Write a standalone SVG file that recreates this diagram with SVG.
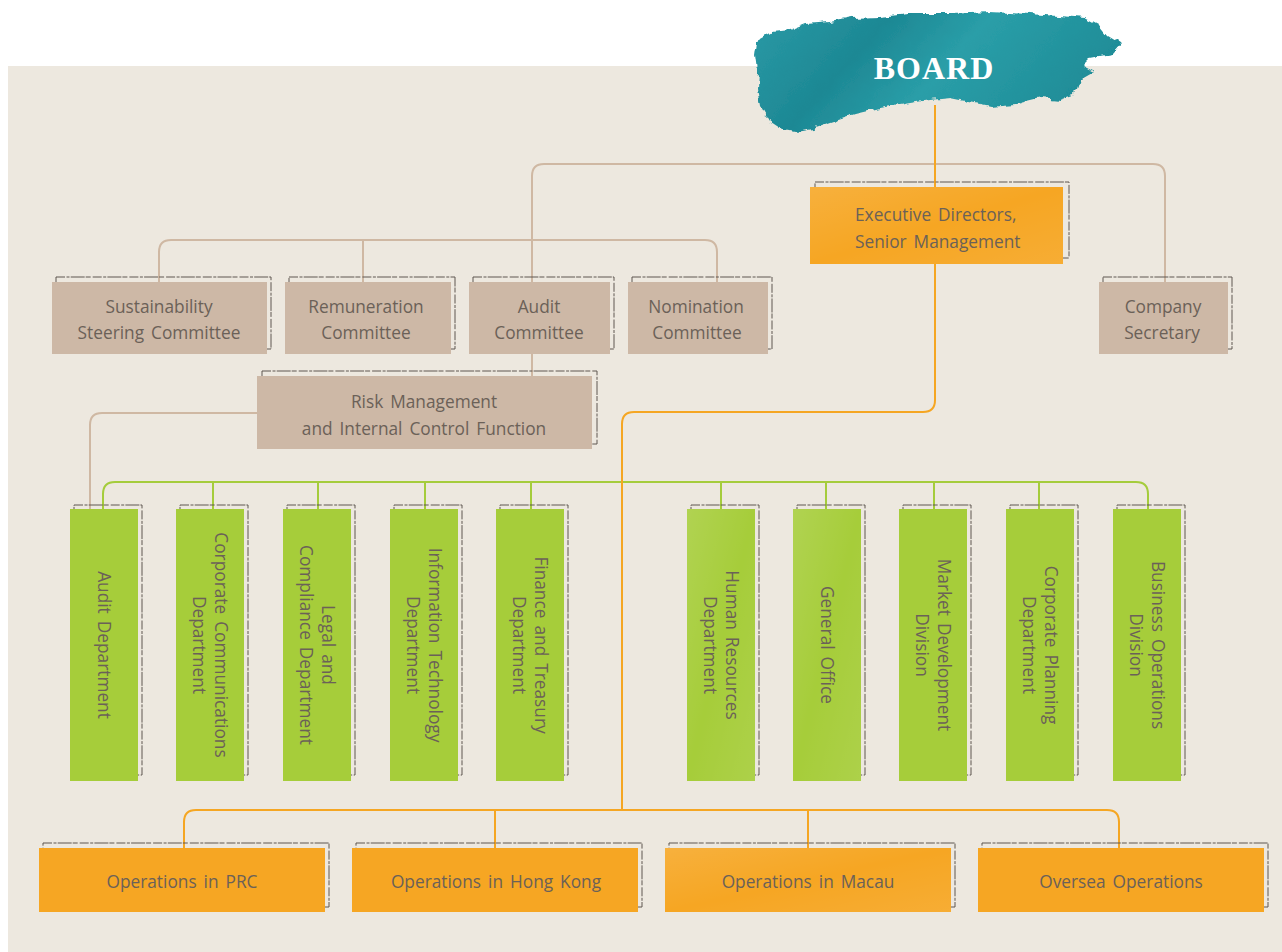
<svg xmlns="http://www.w3.org/2000/svg" width="1282" height="952" viewBox="0 0 1282 952">
<defs>
<style>
.t{font-family:"Open Sans","Noto Sans","DejaVu Sans",sans-serif;font-size:17.3px;word-spacing:2.5px;fill:#6b6158;text-anchor:middle;dominant-baseline:central}
.dash{fill:none;stroke:#5f5751;stroke-width:1;stroke-dasharray:9 1.5 3 1.2 14 1 5 2}
.tan{fill:#cdb8a6}
.grn{fill:#a6cd3a}
.org{fill:#f6a623}
.ctan{fill:none;stroke:#cfb8a3;stroke-width:2}
.corg{fill:none;stroke:#f5a623;stroke-width:2}
.cgrn{fill:none;stroke:#a5cc3c;stroke-width:2}
</style>
<filter id="rough" x="-5%" y="-20%" width="110%" height="140%">
<feTurbulence type="fractalNoise" baseFrequency="0.08" numOctaves="3" seed="3"/>
<feDisplacementMap in="SourceGraphic" scale="9" xChannelSelector="R" yChannelSelector="G"/>
</filter>
<linearGradient id="teal" x1="0" y1="0" x2="1" y2="0.3">
<stop offset="0" stop-color="#2a9aa6"/>
<stop offset="0.35" stop-color="#1d8894"/>
<stop offset="0.6" stop-color="#2a9ea8"/>
<stop offset="1" stop-color="#1f8d98"/>
</linearGradient>
<linearGradient id="sheen" x1="0" y1="0" x2="1" y2="1">
<stop offset="0" stop-color="#ffffff" stop-opacity="0.12"/>
<stop offset="0.5" stop-color="#ffffff" stop-opacity="0"/>
<stop offset="1" stop-color="#ffffff" stop-opacity="0.08"/>
</linearGradient>
</defs>
<rect x="0" y="0" width="1282" height="952" fill="#ffffff"/>
<rect x="8" y="66" width="1274" height="886" fill="#ede8df"/>

<g id="connectors">
<path class="ctan" d="M532,282 V176 Q532,164 544,164 H1153 Q1165,164 1165,176 V282"/>
<path class="ctan" d="M159,282 V252 Q159,240 171,240 H705 Q717,240 717,252 V282"/>
<path class="ctan" d="M363,240 V282"/>
<path class="ctan" d="M532,354 V376"/>
<path class="ctan" d="M257,413 H102 Q90,413 90,425 V509"/>
<path class="cgrn" d="M103,509 V494 Q103,482 115,482 H1136 Q1148,482 1148,494 V509"/>
<path class="cgrn" d="M213,482 V509 M318,482 V509 M425,482 V509 M531,482 V509 M721,482 V509 M826,482 V509 M934,482 V509 M1039,482 V509"/>
<path class="corg" d="M935,105 V187"/>
<path class="corg" d="M935,264 V400 Q935,412 923,412 H634 Q622,412 622,424 V810"/>
<path class="corg" d="M184,848 V822 Q184,810 196,810 H1107 Q1119,810 1119,822 V848"/>
<path class="corg" d="M495,810 V848 M808,810 V848"/>
</g>

<g id="board">
<path filter="url(#rough)" fill="url(#teal)" d="M758,40 L772,32 L790,30 L805,24 L830,22 L850,18 L880,17 L910,14 L950,14 L990,12 L1030,14 L1060,16 L1085,18 L1100,26 L1108,36 L1121,44 L1112,54 L1090,58 L1082,66 L1094,72 L1080,80 L1075,95 L1060,100 L1040,98 L1015,104 L990,106 L970,102 L950,98 L930,100 L905,104 L880,108 L855,114 L830,122 L812,128 L795,131 L780,128 L768,120 L760,106 L757,88 L758,70 L756,55 Z"/>
<text x="934" y="79" font-family="'Liberation Serif','DejaVu Serif',serif" font-weight="bold" font-size="32" letter-spacing="1" fill="#ffffff" text-anchor="middle">BOARD</text>
</g>

<g id="exec">
<rect class="dash" x="815" y="182" width="254" height="76"/>
<rect class="org" x="810" y="187" width="253" height="77"/>
<rect fill="url(#sheen)" x="810" y="187" width="253" height="77"/>
<text class="t" x="855" y="214" style="text-anchor:start">Executive Directors,</text>
<text class="t" x="855" y="241" style="text-anchor:start">Senior Management</text>
</g>

<g id="sustainability">
<rect class="dash" x="56" y="277" width="215" height="72"/>
<rect class="tan" x="52" y="282" width="215" height="72"/>
<text class="t" x="159" y="306">Sustainability</text>
<text class="t" x="159" y="332">Steering Committee</text>
</g>
<g id="remuneration">
<rect class="dash" x="289" y="277" width="166" height="72"/>
<rect class="tan" x="285" y="282" width="166" height="72"/>
<text class="t" x="366" y="306">Remuneration</text>
<text class="t" x="366" y="332">Committee</text>
</g>
<g id="audit-committee">
<rect class="dash" x="473" y="277" width="141" height="72"/>
<rect class="tan" x="469" y="282" width="141" height="72"/>
<text class="t" x="539" y="306">Audit</text>
<text class="t" x="539" y="332">Committee</text>
</g>
<g id="nomination">
<rect class="dash" x="632" y="277" width="140" height="72"/>
<rect class="tan" x="628" y="282" width="140" height="72"/>
<text class="t" x="696" y="306">Nomination</text>
<text class="t" x="697" y="332">Committee</text>
</g>
<g id="company-secretary">
<rect class="dash" x="1103" y="277" width="129" height="72"/>
<rect class="tan" x="1099" y="282" width="129" height="72"/>
<text class="t" x="1163" y="306">Company</text>
<text class="t" x="1162" y="332">Secretary</text>
</g>
<g id="risk">
<rect class="dash" x="262" y="371" width="335" height="73"/>
<rect class="tan" x="257" y="376" width="335" height="73"/>
<text class="t" x="424" y="401">Risk Management</text>
<text class="t" x="424" y="428">and Internal Control Function</text>
</g>

<g id="audit-dept">
<rect class="dash" x="74" y="505" width="68" height="270"/>
<rect class="grn" x="70" y="509" width="68" height="272"/>
<g transform="translate(104,645) rotate(90)"><text class="t" x="0" y="0">Audit Department</text></g>
</g>
<g id="corp-comm">
<rect class="dash" x="180" y="505" width="68" height="270"/>
<rect class="grn" x="176" y="509" width="68" height="272"/>
<g transform="translate(210,645) rotate(90)"><text class="t" x="0" y="-11">Corporate Communications</text><text class="t" x="0" y="11">Department</text></g>
</g>
<g id="legal">
<rect class="dash" x="287" y="505" width="68" height="270"/>
<rect class="grn" x="283" y="509" width="68" height="272"/>
<g transform="translate(317,645) rotate(90)"><text class="t" x="0" y="-11">Legal and</text><text class="t" x="0" y="11">Compliance Department</text></g>
</g>
<g id="it">
<rect class="dash" x="394" y="505" width="68" height="270"/>
<rect class="grn" x="390" y="509" width="68" height="272"/>
<g transform="translate(424,645) rotate(90)"><text class="t" x="0" y="-11">Information Technology</text><text class="t" x="0" y="11">Department</text></g>
</g>
<g id="finance">
<rect class="dash" x="500" y="505" width="68" height="270"/>
<rect class="grn" x="496" y="509" width="68" height="272"/>
<g transform="translate(530,645) rotate(90)"><text class="t" x="0" y="-11">Finance and Treasury</text><text class="t" x="0" y="11">Department</text></g>
</g>
<g id="hr">
<rect class="dash" x="691" y="505" width="68" height="270"/>
<rect class="grn" x="687" y="509" width="68" height="272"/>
<rect fill="url(#sheen)" x="687" y="509" width="68" height="272"/>
<g transform="translate(721,645) rotate(90)"><text class="t" x="0" y="-11">Human Resources</text><text class="t" x="0" y="11">Department</text></g>
</g>
<g id="general-office">
<rect class="dash" x="797" y="505" width="68" height="270"/>
<rect class="grn" x="793" y="509" width="68" height="272"/>
<rect fill="url(#sheen)" x="793" y="509" width="68" height="272"/>
<g transform="translate(827,645) rotate(90)"><text class="t" x="0" y="0">General Office</text></g>
</g>
<g id="market-dev">
<rect class="dash" x="903" y="505" width="68" height="270"/>
<rect class="grn" x="899" y="509" width="68" height="272"/>
<g transform="translate(933,645) rotate(90)"><text class="t" x="0" y="-11">Market Development</text><text class="t" x="0" y="11">Division</text></g>
</g>
<g id="corp-planning">
<rect class="dash" x="1010" y="505" width="68" height="270"/>
<rect class="grn" x="1006" y="509" width="68" height="272"/>
<g transform="translate(1040,645) rotate(90)"><text class="t" x="0" y="-11">Corporate Planning</text><text class="t" x="0" y="11">Department</text></g>
</g>
<g id="business-ops">
<rect class="dash" x="1117" y="505" width="68" height="270"/>
<rect class="grn" x="1113" y="509" width="68" height="272"/>
<g transform="translate(1147,645) rotate(90)"><text class="t" x="0" y="-11">Business Operations</text><text class="t" x="0" y="11">Division</text></g>
</g>

<g id="ops-prc">
<rect class="dash" x="43" y="843" width="286" height="64"/>
<rect class="org" x="39" y="848" width="286" height="64"/>
<text class="t" x="182" y="881">Operations in PRC</text>
</g>
<g id="ops-hk">
<rect class="dash" x="356" y="843" width="286" height="64"/>
<rect class="org" x="352" y="848" width="286" height="64"/>
<text class="t" x="496" y="881">Operations in Hong Kong</text>
</g>
<g id="ops-macau">
<rect class="dash" x="669" y="843" width="286" height="64"/>
<rect class="org" x="665" y="848" width="286" height="64"/>
<rect fill="url(#sheen)" x="665" y="848" width="286" height="64"/>
<text class="t" x="808" y="881">Operations in Macau</text>
</g>
<g id="ops-oversea">
<rect class="dash" x="982" y="843" width="286" height="64"/>
<rect class="org" x="978" y="848" width="286" height="64"/>
<text class="t" x="1121" y="881">Oversea Operations</text>
</g>
</svg>
